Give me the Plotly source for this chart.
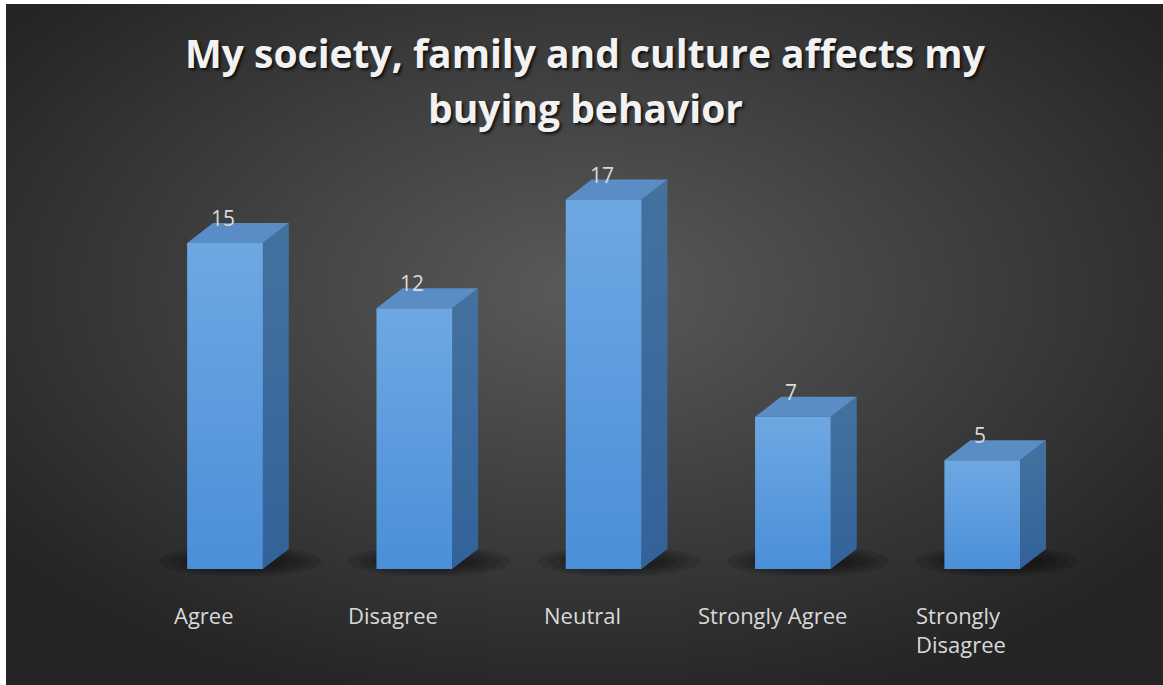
import base64
import math
import plotly.graph_objects as go

# Survey responses
categories = ["Agree", "Disagree", "Neutral", "Strongly Agree", "Strongly<br>Disagree"]
counts = [15, 12, 17, 7, 5]

title_line1 = "My society, family and culture affects my"
title_line2 = "buying behavior"

# 3D bar geometry (data units)
HALF_W = 0.2      # half the front-face width
DEPTH_X = 0.137   # horizontal depth offset
DEPTH_Y = 0.92    # vertical depth offset

FRONT_TOP = "#6ea8e3"
FRONT_BOTTOM = "#4a8fd8"
TOP_FACE = "#5a8cc6"
SIDE_TOP = "#44729f"
SIDE_BOTTOM = "#33629a"
TEXT_COLOR = "#d9d9d9"
FONT = "Open Sans"

fig = go.Figure()


def poly(xs, ys, **kw):
    fig.add_trace(go.Scatter(
        x=xs + [xs[0]], y=ys + [ys[0]], mode="lines", fill="toself",
        line=dict(width=0), hoverinfo="skip", showlegend=False, **kw))


def ellipse(cx, cy, rx, ry, n=48):
    xs = [cx + rx * math.cos(2 * math.pi * k / n) for k in range(n)]
    ys = [cy + ry * math.sin(2 * math.pi * k / n) for k in range(n)]
    return xs, ys


for i, v in enumerate(counts):
    xl, xr = i - HALF_W, i + HALF_W
    # soft floor shadow: stacked translucent ellipses fake a blur
    for s in [1.0, 0.86, 0.72, 0.58, 0.44]:
        ex, ey = ellipse(i + 0.08, 0.35, 0.43 * s, 0.7 * s)
        poly(ex, ey, fillcolor="rgba(0,0,0,0.12)")
    # side face
    poly([xr, xr + DEPTH_X, xr + DEPTH_X, xr],
         [0, DEPTH_Y, v + DEPTH_Y, v],
         fillgradient=dict(type="vertical",
                           colorscale=[[0, SIDE_BOTTOM], [1, SIDE_TOP]]))
    # top face
    poly([xl, xr, xr + DEPTH_X, xl + DEPTH_X],
         [v, v, v + DEPTH_Y, v + DEPTH_Y], fillcolor=TOP_FACE)
    # front face
    poly([xl, xr, xr, xl], [0, 0, v, v],
         fillgradient=dict(type="vertical",
                           colorscale=[[0, FRONT_BOTTOM], [1, FRONT_TOP]]))

annotations = []
for i, v in enumerate(counts):
    annotations.append(dict(
        x=i - 0.01, y=v, xref="x", yref="y", text=str(v), showarrow=False,
        xanchor="center", yanchor="bottom", yshift=9,
        font=dict(family=FONT, size=21, color=TEXT_COLOR)))
    annotations.append(dict(
        x=i - 0.11, y=-1.35, xref="x", yref="y", text=categories[i],
        showarrow=False, xanchor="center", yanchor="top", align="left",
        font=dict(family=FONT, size=22, color=TEXT_COLOR)))

title_font = dict(family=FONT, size=39, color="#f2f2f2",
                  weight="bold", shadow="2px 2px 3px rgba(0,0,0,0.75)")
annotations.append(dict(x=585 / 1163, y=1 - 52 / 685, xref="paper", yref="paper",
                        text=title_line1, showarrow=False, xanchor="center",
                        yanchor="middle", font=title_font))
annotations.append(dict(x=585 / 1163, y=1 - 107 / 685, xref="paper", yref="paper",
                        text=title_line2, showarrow=False, xanchor="center",
                        yanchor="middle", font=title_font))

# dark radial backdrop
svg = """<svg xmlns='http://www.w3.org/2000/svg' width='1157' height='681' viewBox='0 0 1157 681' preserveAspectRatio='none'>
<defs><radialGradient id='g' cx='0.5' cy='0.42' r='0.62' fx='0.5' fy='0.42'>
<stop offset='0' stop-color='#5a5a5a'/><stop offset='0.55' stop-color='#3d3d3d'/>
<stop offset='1' stop-color='#252525'/></radialGradient></defs>
<rect width='1157' height='681' fill='url(#g)'/></svg>"""
bg_src = "data:image/svg+xml;base64," + base64.b64encode(svg.encode()).decode()

fig.update_layout(
    width=1163, height=685,
    margin=dict(l=0, r=0, t=0, b=0, pad=0),
    paper_bgcolor="white", plot_bgcolor="rgba(0,0,0,0)",
    xaxis=dict(range=[-1.1886, 4.955], visible=False, fixedrange=True),
    yaxis=dict(range=[-5.338, 26.18], visible=False, fixedrange=True),
    images=[dict(source=bg_src, xref="paper", yref="paper",
                 x=6 / 1163, y=1 - 4 / 685, sizex=1 - 6 / 1163, sizey=1 - 4 / 685,
                 xanchor="left", yanchor="top", sizing="stretch", layer="below")],
    annotations=annotations,
    showlegend=False,
)

fig.write_html("out.html")
